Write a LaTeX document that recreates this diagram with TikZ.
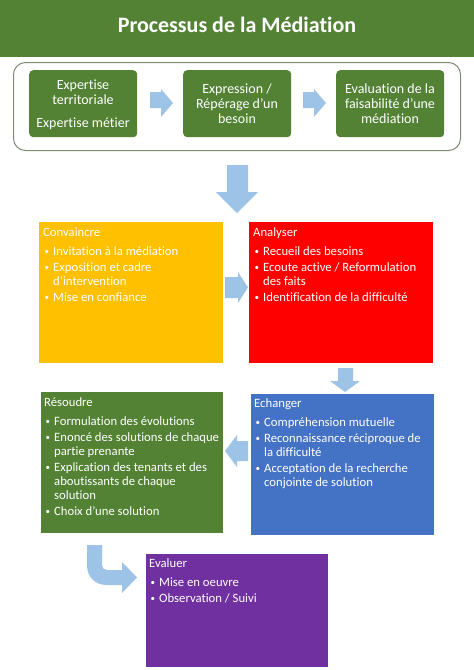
\documentclass[tikz,border=0pt]{standalone}
\usepackage{fontspec}
\setmainfont{Carlito}[Ligatures={NoCommon,NoRequired,NoContextual}]
\definecolor{ttlgreen}{HTML}{548235}
\definecolor{boxgreen}{HTML}{548235}
\definecolor{boxorange}{HTML}{FFC000}
\definecolor{boxred}{HTML}{FF0000}
\definecolor{boxblue}{HTML}{4472C4}
\definecolor{boxpurple}{HTML}{7030A0}
\definecolor{arrowblue}{HTML}{9DC3E6}
\definecolor{outlinegray}{HTML}{7F8C73}
\newcommand\bitem[1]{\vskip2pt\hbox{\hspace*{1.5pt}\makebox[8.5pt][l]{\raisebox{0.8pt}{\fontsize{9}{9}\selectfont\textbullet}}#1}}
\newcommand\citem[1]{\hbox{\hspace*{10pt}#1}}
\newcommand\cln[1]{\hbox to 0pt{\hss#1\hss}}
\begin{document}
\begin{tikzpicture}[x=1pt,y=-1pt,
  panel/.style={draw=none, inner sep=0pt, anchor=north west},
  txt/.style={text=white, inner sep=0pt, anchor=base west, font=\fontsize{12.7}{14}\selectfont},
  gtxt/.style={text=white, inner sep=0pt, anchor=base, font=\fontsize{14}{15}\selectfont},
  blockarrow/.style={fill=arrowblue, draw=none}]
\useasboundingbox (0,0) rectangle (474,670);
% title banner
\node[panel, fill=ttlgreen, minimum width=474pt, minimum height=57pt] (banner) at (0,0) {};
\node[text=white, inner sep=0pt, anchor=base, font=\bfseries\fontsize{22}{26}\selectfont] (title) at (237,32) {Processus de la Médiation};
% top frame
\node[panel, draw=outlinegray, line width=1pt, rounded corners=12pt, minimum width=447pt, minimum height=88pt] (frame) at (13,62) {};
\node[panel, fill=boxgreen, rounded corners=4pt, minimum width=108pt, minimum height=67pt] (g1) at (29,70) {};
\node[panel, fill=boxgreen, rounded corners=4pt, minimum width=108pt, minimum height=67pt] (g2) at (183,70) {};
\node[panel, fill=boxgreen, rounded corners=4pt, minimum width=108pt, minimum height=67pt] (g3) at (336,70) {};
\node[gtxt] (g1t) at (83,89) {\vtop{\baselineskip=15pt\cln{Expertise}\cln{territoriale}\vskip8pt\cln{Expertise métier}}};
\node[gtxt] (g2t) at (237,93) {\vtop{\baselineskip=15pt\cln{Expression /}\cln{Répérage d'un}\cln{besoin}}};
\node[gtxt] (g3t) at (390,93) {\vtop{\baselineskip=15pt\cln{Evaluation de la}\cln{faisabilité d'une}\cln{médiation}}};
% arrows in frame
\fill[blockarrow] (150,92) -- (161,92) -- (161,89) -- (173,103) -- (161,117) -- (161,108) -- (150,108) -- cycle;
\fill[blockarrow] (303,92) -- (314,92) -- (314,89) -- (326,103) -- (314,117) -- (314,108) -- (303,108) -- cycle;
% big down arrow
\fill[blockarrow] (227,165) -- (248,165) -- (248,192) -- (258,192) -- (237,213) -- (216,192) -- (227,192) -- cycle;
% process boxes
\node[panel, fill=boxorange, minimum width=184pt, minimum height=141pt] (conv) at (39,222) {};
\node[panel, fill=boxred, minimum width=184pt, minimum height=141pt] (anal) at (249,222) {};
\node[panel, fill=boxgreen, minimum width=182pt, minimum height=141pt] (reso) at (41,392) {};
\node[panel, fill=boxblue, minimum width=183pt, minimum height=141pt] (echa) at (251,394) {};
\node[panel, fill=boxpurple, minimum width=182pt, minimum height=113pt] (eval) at (146,554) {};
% texts
\node[txt] (convt) at (43,236) {\vtop{\baselineskip=14pt\hbox{Convaincre}\vskip3pt
  \bitem{Invitation à la médiation}\bitem{Exposition et cadre}\citem{d'intervention}\bitem{Mise en confiance}}};
\node[txt] (analt) at (253,236) {\vtop{\baselineskip=14pt\hbox{Analyser}\vskip3pt
  \bitem{Recueil des besoins}\bitem{Ecoute active / Reformulation}\citem{des faits}\bitem{Identification de la difficulté}}};
\node[txt] (resot) at (44,406) {\vtop{\baselineskip=14pt\hbox{Résoudre}\vskip3pt
  \bitem{Formulation des évolutions}\bitem{Enoncé des solutions de chaque}\citem{partie prenante}\bitem{Explication des tenants et des}\citem{aboutissants de chaque}\citem{solution}\bitem{Choix d'une solution}}};
\node[txt] (echat) at (254,407) {\vtop{\baselineskip=14pt\hbox{Echanger}\vskip3pt
  \bitem{Compréhension mutuelle}\bitem{Reconnaissance réciproque de}\citem{la difficulté}\bitem{Acceptation de la recherche}\citem{conjointe de solution}}};
\node[txt] (evalt) at (149,567) {\vtop{\baselineskip=14pt\hbox{Evaluer}\vskip3pt
  \bitem{Mise en oeuvre}\bitem{Observation / Suivi}}};
% connectors
\fill[blockarrow] (225,277) -- (238,277) -- (238,272) -- (248,287.5) -- (238,303) -- (238,298) -- (225,298) -- cycle;
\fill[blockarrow] (338,368) -- (353,368) -- (353,381) -- (360,381) -- (345,392) -- (330,381) -- (338,381) -- cycle;
\fill[blockarrow] (248,441) -- (237,441) -- (237,435) -- (225,451) -- (237,467) -- (237,461) -- (248,461) -- cycle;
\fill[blockarrow] (87,545) -- (87,565) .. controls (87,577) and (95,585) .. (107,585) -- (122,585) -- (122,593) -- (137,577.5) -- (122,562) -- (122,570) -- (107,570) .. controls (104,570) and (102,568) .. (102,565) -- (102,545) -- cycle;
\end{tikzpicture}
\end{document}
